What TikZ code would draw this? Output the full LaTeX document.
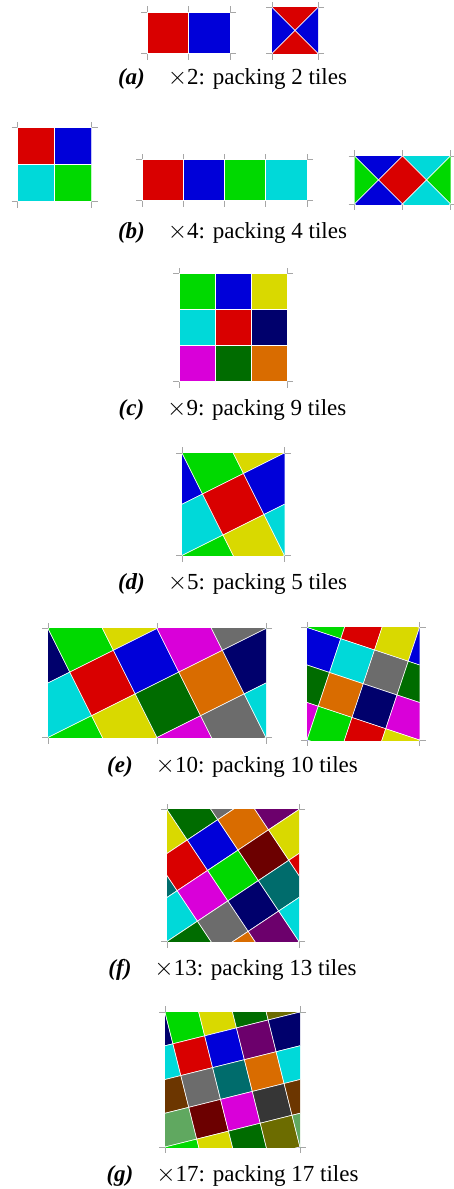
\documentclass[tikz,border=0pt]{standalone}
\usepackage{fontspec}
\setmainfont{Liberation Serif}

\definecolor{tRed}{RGB}{217,0,0}
\definecolor{tBlue}{RGB}{0,0,217}
\definecolor{tGreen}{RGB}{0,217,0}
\definecolor{tCyan}{RGB}{0,217,217}
\definecolor{tYellow}{RGB}{217,217,0}
\definecolor{tMagenta}{RGB}{217,0,217}
\definecolor{tNavy}{RGB}{0,0,108}
\definecolor{tDkGreen}{RGB}{0,108,0}
\definecolor{tOrange}{RGB}{217,108,0}
\definecolor{tGray}{RGB}{108,108,108}
\definecolor{tMaroon}{RGB}{108,0,0}
\definecolor{tTeal}{RGB}{0,108,108}
\definecolor{tPurple}{RGB}{108,0,108}
\definecolor{tBrown}{RGB}{108,54,0}
\definecolor{tSage}{RGB}{96,168,96}
\definecolor{tDkGray}{RGB}{54,54,54}
\definecolor{tOlive}{RGB}{108,108,0}

\tikzset{
  tile/.style={draw=white, line width=0.6pt},
  tick/.style={draw=black!35, line width=0.9pt},
  caption/.style={anchor=base, inner sep=0pt, font=\fontsize{23}{27}\selectfont},
}

% corner marks of a period rectangle
\newcommand{\corners}[4]{%
  \draw[tick] (#1-6,#2) -- (#1,#2) -- (#1,#2-6);
  \draw[tick] (#3+6,#2) -- (#3,#2) -- (#3,#2-6);
  \draw[tick] (#1-6,#4) -- (#1,#4) -- (#1,#4+6);
  \draw[tick] (#3+6,#4) -- (#3,#4) -- (#3,#4+6);}

% square tiles on a lattice: scope options, range of a, range of b, colour index, colours
\newcommand{\tiling}[5]{%
  \begin{scope}[#1]
    \foreach \ta in {#2} \foreach \tb in {#3} {
      \pgfmathtruncatemacro{\k}{#4}
      \pgfmathsetmacro{\col}{{#5}[\k]}
      \filldraw[tile, fill=\col] (\ta-.5,\tb-.5) -- ++(1,0) -- ++(0,1) -- ++(-1,0) -- cycle;
    }
  \end{scope}}

\begin{document}
\begin{tikzpicture}[x=1pt, y=-1pt]
  \useasboundingbox (0,0) rectangle (453,1189);

  % (a) packing 2 tiles
  \corners{147}{12}{230}{53.5}
  \draw[tick] (188.5,12) -- (188.5,6) (188.5,53.5) -- (188.5,59.5);
  \begin{scope}
    \clip (147,12) rectangle (230,53.5);
    \tiling{shift={(167.75,32.75)}, x={(41.5pt,0pt)}, y={(0pt,-41.5pt)}}{0,1}{0}
      {\ta}{"tRed","tBlue"}
  \end{scope}
  \corners{272}{7.5}{318}{53.5}
  \begin{scope}
    \clip (272,7.5) rectangle (318,53.5);
    \tiling{shift={(295,7.5)}, x={(23pt,-23pt)}, y={(-23pt,-23pt)}}{-2,...,3}{-2,...,3}
      {Mod(\ta+\tb,2)}{"tRed","tBlue"}
  \end{scope}
  \node[caption] (capA) at (232.5,84) {\textbf{\textit{(a)}}\quad$\times$2: packing 2 tiles};

  % (b) packing 4 tiles
  \corners{17.5}{127.5}{91.5}{201.5}
  \begin{scope}
    \clip (17.5,127.5) rectangle (91.5,201.5);
    \tiling{shift={(36,146)}, x={(37pt,0pt)}, y={(0pt,-37pt)}}{0,1}{0,1}
      {\ta+2*\tb}{"tRed","tBlue","tCyan","tGreen"}
  \end{scope}
  \corners{142}{159.5}{307}{200.75}
  \foreach \m in {183.25,224.5,265.75}
    \draw[tick] (\m,159.5) -- (\m,153.5) (\m,200.75) -- (\m,206.75);
  \begin{scope}
    \clip (142,159.5) rectangle (307,200.75);
    \tiling{shift={(162.625,180.125)}, x={(41.25pt,0pt)}, y={(0pt,-41.25pt)}}{0,...,3}{0}
      {\ta}{"tRed","tBlue","tGreen","tCyan"}
  \end{scope}
  \corners{354.5}{156}{450.5}{204}
  \draw[tick] (402.5,156) -- (402.5,150) (402.5,204) -- (402.5,210);
  \begin{scope}
    \clip (354.5,156) rectangle (450.5,204);
    \tiling{shift={(402.5,180)}, x={(24pt,-24pt)}, y={(-24pt,-24pt)}}{-3,...,3}{-3,...,3}
      {Mod(\ta-\tb,4)}{"tRed","tCyan","tGreen","tBlue"}
  \end{scope}
  \node[caption] (capB) at (232.5,238) {\textbf{\textit{(b)}}\quad$\times$4: packing 4 tiles};

  % (c) packing 9 tiles
  \corners{179}{273.5}{287}{381.5}
  \begin{scope}
    \clip (179,273.5) rectangle (287,381.5);
    \tiling{shift={(197,291.5)}, x={(36pt,0pt)}, y={(0pt,-36pt)}}{0,1,2}{0,1,2}
      {\ta+3*\tb}{"tGreen","tBlue","tYellow","tCyan","tRed","tNavy","tMagenta","tDkGreen","tOrange"}
  \end{scope}
  \node[caption] (capC) at (232.5,415) {\textbf{\textit{(c)}}\quad$\times$9: packing 9 tiles};

  % (d) packing 5 tiles
  \corners{182}{453}{284.5}{555.5}
  \begin{scope}
    \clip (182,453) rectangle (284.5,555.5);
    \tiling{shift={(233.25,504.25)}, x={(41pt,20.5pt)}, y={(20.5pt,-41pt)}}{-2,...,2}{-2,...,2}
      {Mod(\ta+3*\tb,5)}{"tRed","tBlue","tGreen","tYellow","tCyan"}
  \end{scope}
  \node[caption] (capD) at (232.5,589) {\textbf{\textit{(d)}}\quad$\times$5: packing 5 tiles};

  % (e) packing 10 tiles
  \corners{48}{628.5}{266}{737.5}
  \draw[tick] (157,628.5) -- (157,622.5) (157,737.5) -- (157,743.5);
  \begin{scope}
    \clip (48,628.5) rectangle (266,737.5);
    \tiling{shift={(102.5,683)}, x={(43.6pt,21.8pt)}, y={(21.8pt,-43.6pt)}}{-2,...,4}{-2,...,3}
      {Mod(2*\ta+\tb,10)}{"tRed","tYellow","tBlue","tDkGreen","tMagenta","tOrange","tGray","tNavy","tCyan","tGreen"}
  \end{scope}
  \corners{307}{627.5}{419.5}{740}
  \begin{scope}
    \clip (307,627.5) rectangle (419.5,740);
    \tiling{shift={(352,661.25)}, x={(33.75pt,-11.25pt)}, y={(-11.25pt,-33.75pt)}}{-2,...,3}{-2,...,3}
      {Mod(\ta+3*\tb,10)}{"tCyan","tGray","tDkGreen","tOrange","tNavy","tMagenta","tGreen","tRed","tYellow","tBlue"}
  \end{scope}
  \node[caption] (capE) at (232.5,772) {\textbf{\textit{(e)}}\quad$\times$10: packing 10 tiles};

  % (f) packing 13 tiles
  \corners{167}{809.5}{299}{941.5}
  \begin{scope}
    \clip (167,809.5) rectangle (299,941.5);
    \tiling{shift={(212.69,845.04)}, x={(30.46pt,20.31pt)}, y={(20.31pt,-30.46pt)}}{-3,...,3}{-2,...,4}
      {Mod(\ta+5*\tb,13)}{"tBlue","tOrange","tPurple","tCyan","tMagenta","tGreen","tMaroon","tYellow","tDkGreen","tGray","tNavy","tTeal","tRed"}
  \end{scope}
  \node[caption] (capF) at (232.5,975) {\textbf{\textit{(f)}}\quad$\times$13: packing 13 tiles};

  % (g) packing 17 tiles
  \corners{165}{1012}{300}{1147}
  \begin{scope}
    \clip (165,1012) rectangle (300,1147);
    \tiling{shift={(192.79,1055.68)}, x={(31.76pt,7.94pt)}, y={(7.94pt,-31.76pt)}}{-2,...,4}{-2,...,4}
      {Mod(4*\ta+\tb,17)}{"tRed","tGray","tMaroon","tYellow","tBlue","tTeal","tMagenta","tDkGreen","tPurple","tOrange","tDkGray","tOlive","tNavy","tCyan","tBrown","tSage","tGreen"}
  \end{scope}
  \node[caption] (capG) at (232.5,1181) {\textbf{\textit{(g)}}\quad$\times$17: packing 17 tiles};
\end{tikzpicture}
\end{document}
